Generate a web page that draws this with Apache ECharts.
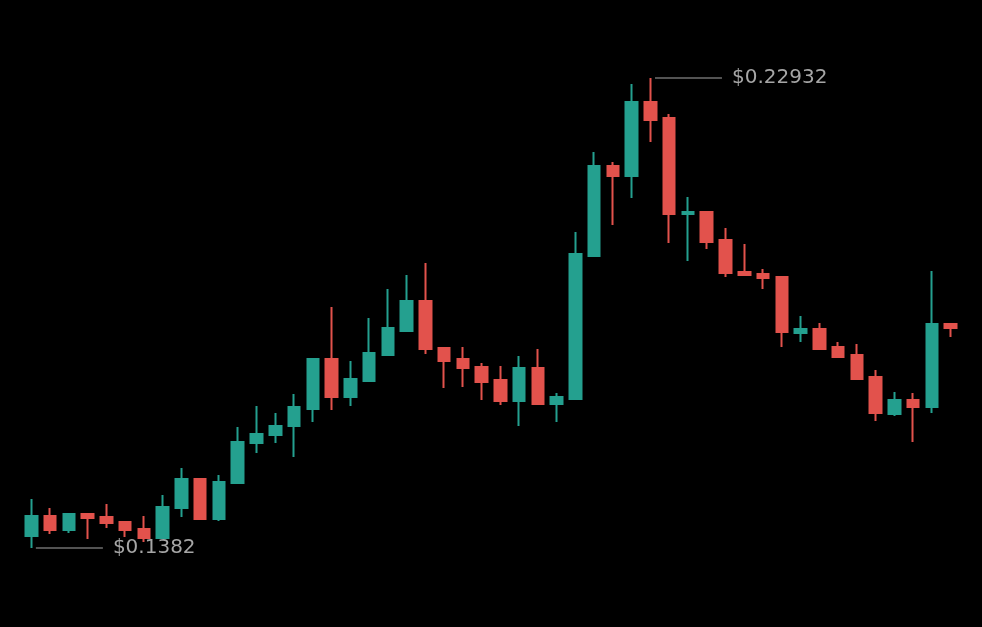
<!DOCTYPE html>
<html>
<head>
<meta charset="utf-8">
<script src="https://cdn.jsdelivr.net/npm/echarts@6/dist/echarts.min.js"></script>
<style>
  html, body { margin: 0; padding: 0; background: #000; }
  #chart { width: 982px; height: 627px; }
</style>
</head>
<body>
<div id="chart"></div>
<script>
// candle values: open, close, low, high
const opens  = [0.14053, 0.14441, 0.14169, 0.14479, 0.14421, 0.14324, 0.14189, 0.14014, 0.14596, 0.15158,
                0.14382, 0.15080, 0.15856, 0.16011, 0.16185, 0.16515, 0.17484, 0.16748, 0.17058, 0.17562,
                0.18027, 0.18609, 0.17698, 0.17484, 0.17329, 0.17077, 0.16670, 0.17310, 0.16612, 0.16709,
                0.19481, 0.21226, 0.21032, 0.22467, 0.22157, 0.20295, 0.20334, 0.19791, 0.19171, 0.19132,
                0.19074, 0.17988, 0.18066, 0.17717, 0.17562, 0.17135, 0.16418, 0.16689, 0.16554, 0.18163];
const closes = [0.14441, 0.14169, 0.14479, 0.14402, 0.14305, 0.14169, 0.14014, 0.14615, 0.15158, 0.14382,
                0.15100, 0.15875, 0.16030, 0.16185, 0.16554, 0.17484, 0.16748, 0.17097, 0.17601, 0.18085,
                0.18609, 0.17678, 0.17446, 0.17310, 0.17038, 0.16670, 0.17310, 0.16612, 0.16748, 0.19520,
                0.21226, 0.21032, 0.22467, 0.22118, 0.20295, 0.20334, 0.19753, 0.19152, 0.19113, 0.19055,
                0.18008, 0.18066, 0.17678, 0.17523, 0.17097, 0.16437, 0.16689, 0.16554, 0.18163, 0.18085];
const lows   = [0.13820, 0.14092, 0.14111, 0.13995, 0.14208, 0.14033, 0.13936, 0.14014, 0.14421, 0.14363,
                0.14344, 0.15080, 0.15662, 0.15856, 0.15584, 0.16263, 0.16496, 0.16573, 0.17038, 0.17562,
                0.18008, 0.17581, 0.16922, 0.16941, 0.16689, 0.16593, 0.16185, 0.16593, 0.16263, 0.16709,
                0.19462, 0.20082, 0.20606, 0.21691, 0.19733, 0.19384, 0.19617, 0.19074, 0.19113, 0.18841,
                0.17717, 0.17814, 0.17659, 0.17523, 0.17097, 0.16282, 0.16379, 0.15875, 0.16437, 0.17911];
const highs  = [0.14770, 0.14596, 0.14479, 0.14479, 0.14673, 0.14324, 0.14441, 0.14848, 0.15371, 0.15158,
                0.15235, 0.16166, 0.16573, 0.16437, 0.16806, 0.17484, 0.18492, 0.17446, 0.18279, 0.18841,
                0.19113, 0.19345, 0.17698, 0.17717, 0.17407, 0.17349, 0.17542, 0.17678, 0.16825, 0.19946,
                0.21497, 0.21304, 0.22816, 0.22932, 0.22234, 0.20625, 0.20334, 0.20024, 0.19714, 0.19229,
                0.19074, 0.18318, 0.18182, 0.17814, 0.17775, 0.17271, 0.16845, 0.16825, 0.19190, 0.18163];
const days = opens.map((_, i) => 'D' + (i + 1));

const upColor = '#24a08f';
const downColor = '#e2524c';
const noteColor = '#a6a6a6';

const candles = opens.map((o, i) => [o, closes[i], lows[i], highs[i]]);

const chart = echarts.init(document.getElementById('chart'));

const noteLabel = {
  show: true,
  position: 'right',
  distance: 10,
  color: noteColor,
  fontFamily: 'DejaVu Sans',
  fontSize: 20,
  formatter: p => '$' + p.value
};

const option = {
  backgroundColor: '#000',
  animation: false,
  grid: { left: 22, right: 22, top: 78, bottom: 79 },
  xAxis: {
    type: 'category',
    data: days,
    show: false,
    boundaryGap: true
  },
  yAxis: {
    type: 'value',
    min: 'dataMin',
    max: 'dataMax',
    scale: true,
    show: false,
    splitLine: { show: false }
  },
  series: [{
    type: 'candlestick',
    data: candles,
    barWidth: 12,
    itemStyle: {
      color: upColor,
      color0: downColor,
      borderColor: upColor,
      borderColor0: downColor,
      borderWidth: 2
    },
    markPoint: {
      symbol: 'rect',
      symbolSize: [67, 1.2],
      symbolOffset: [38, 0],
      itemStyle: { color: noteColor },
      label: noteLabel,
      data: [
        { type: 'max', valueDim: 'highest' },
        { type: 'min', valueDim: 'lowest' }
      ]
    }
  }]
};

chart.setOption(option);
</script>
</body>
</html>
